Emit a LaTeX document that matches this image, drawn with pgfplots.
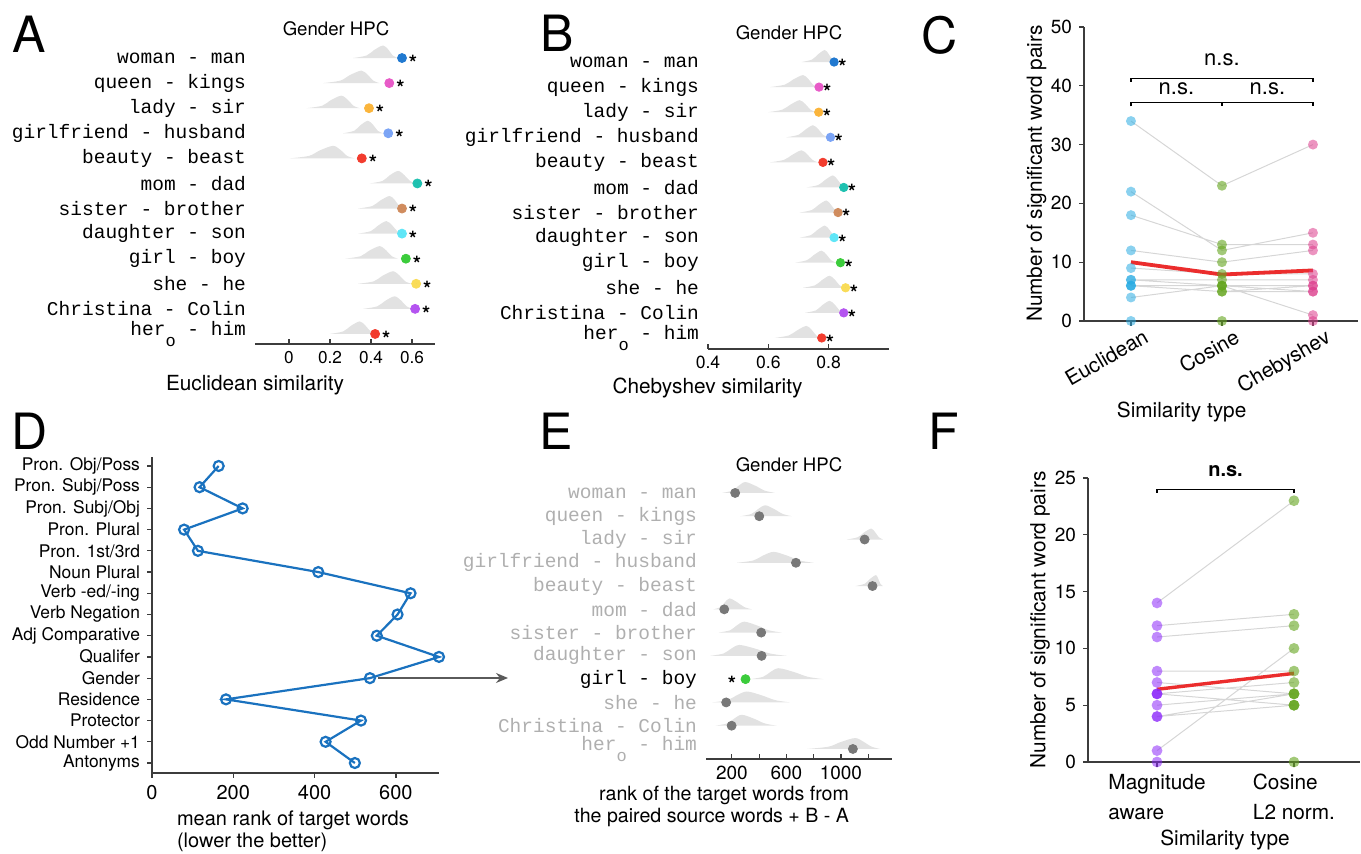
\documentclass[border=0pt]{standalone}
\usepackage{fontspec}
\setmainfont{TeX Gyre Heros}
\newfontfamily\pairfont{Liberation Mono}
\usepackage{pgfplots}
\usepackage{pgfplotstable}
\pgfplotsset{compat=1.18}
\usetikzlibrary{arrows.meta}

\definecolor{axcol}{RGB}{60,60,60}
\definecolor{densgray}{RGB}{226,226,226}
\definecolor{cWoman}{RGB}{33,121,208}
\definecolor{cQueen}{RGB}{232,91,200}
\definecolor{cLady}{RGB}{251,181,60}
\definecolor{cGirlfriend}{RGB}{123,164,245}
\definecolor{cBeauty}{RGB}{242,60,46}
\definecolor{cMom}{RGB}{31,193,176}
\definecolor{cSister}{RGB}{208,140,94}
\definecolor{cDaughter}{RGB}{95,230,247}
\definecolor{cGirl}{RGB}{60,204,60}
\definecolor{cShe}{RGB}{249,220,88}
\definecolor{cChristina}{RGB}{180,84,240}
\definecolor{cHer}{RGB}{242,60,46}
\definecolor{dotgray}{RGB}{120,120,120}
\definecolor{labgray}{RGB}{175,175,175}
\definecolor{dblue}{RGB}{26,114,191}
\definecolor{cEuc}{RGB}{41,171,226}
\definecolor{cCos}{RGB}{100,165,30}
\definecolor{cCheb}{RGB}{220,60,140}
\definecolor{cMag}{RGB}{140,40,250}
\definecolor{meanred}{RGB}{235,45,45}
\definecolor{arrowgray}{RGB}{90,90,90}

\newcommand{\sz}[1]{\fontsize{#1}{#1}\selectfont}

% observed similarity of each word pair (row 12 = top row)
\pgfplotstableread{
x y c
0.551 12 a
0.489 11 b
0.390 10 c
0.484 9 d
0.355 8 e
0.626 7 f
0.551 6 g
0.551 5 h
0.570 4 i
0.620 3 j
0.615 2 k
0.420 1 l
}\dotsA
\pgfplotstableread{
x y c
0.818 12 a
0.768 11 b
0.767 10 c
0.806 9 d
0.781 8 e
0.850 7 f
0.831 6 g
0.818 5 h
0.839 4 i
0.856 3 j
0.850 2 k
0.777 1 l
}\dotsB
\pgfplotstableread{
x y
224 12
401 11
1174 10
670 9
1232 8
144 7
415 6
418 5
158 3
198 2
1088 1
}\dotsE

\pgfplotsset{
  panel/.style={scale only axis, clip=false, anchor=south west,
    axis line style={axcol, line width=0.7pt},
    tick style={axcol, line width=0.6pt},
    major tick length=2.5pt,
    /pgf/number format/assume math mode=true},
  pairs/.style={panel, ytick={1,...,12},
    axis x line*=bottom, axis y line*=left,
    y axis line style={draw=none}, ytick style={draw=none},
    xtick align=inside,
    yticklabel style={font=\pairfont\sz{9.75}, xshift=-1pt},
    yticklabels={her\raisebox{-1.1ex}{\sz{8.5}o} - him, Christina - Colin,
      she - he, girl - boy, daughter - son, sister - brother, mom - dad,
      beauty - beast, girlfriend - husband, lady - sir, queen - kings,
      woman - man}},
  dens/.style={fill=densgray, draw=none, smooth, mark=none},
  pairdots/.style={scatter, only marks, mark=*, scatter src=explicit symbolic,
    scatter/classes={
      a={mark=*, cWoman},
      b={mark=*, cQueen},
      c={mark=*, cLady},
      d={mark=*, cGirlfriend},
      e={mark=*, cBeauty},
      f={mark=*, cMom},
      g={mark=*, cSister},
      h={mark=*, cDaughter},
      i={mark=*, cGirl},
      j={mark=*, cShe},
      k={mark=*, cChristina},
      l={mark=*, cHer}}},
  % significance stars written beside each observed value
  stars/.style={only marks, mark=*, mark size=0pt, draw=none, fill=none,
    nodes near coords={\bfseries *},
    every node near coord/.append style={anchor=base west, inner sep=0pt,
      font=\sz{10.5}, text=black, yshift=-6.2pt}},
  pairlines/.style={draw=black, draw opacity=0.16, line width=0.5pt},
}

\begin{document}
\begin{tikzpicture}
\path[use as bounding box] (0,0) rectangle (680.5pt,427pt);

% ---------------- A: Euclidean similarity ----------------
\begin{axis}[pairs, at={(127.5pt,255pt)}, width=90pt, height=150.5pt,
  xmin=-0.166, xmax=0.712, ymin=0.6, ymax=12.6,
  xtick={0,0.2,0.4,0.6}, xticklabel style={font=\sz{8.6}}]
\addplot[dens] coordinates {(0.312,12)(0.378,12.1)(0.415,12.32)(0.459,12.5)(0.485,12.33)(0.506,12.1)(0.532,12)};
\addplot[dens] coordinates {(0.166,11)(0.250,11.1)(0.297,11.32)(0.353,11.5)(0.384,11.33)(0.411,11.1)(0.442,11)};
\addplot[dens] coordinates {(0.085,10)(0.162,10.1)(0.204,10.32)(0.255,10.5)(0.287,10.33)(0.314,10.1)(0.345,10)};
\addplot[dens] coordinates {(0.263,9)(0.318,9.1)(0.348,9.32)(0.385,9.5)(0.411,9.33)(0.433,9.1)(0.459,9)};
\addplot[dens] coordinates {(0.003,8)(0.098,8.1)(0.151,8.32)(0.215,8.5)(0.252,8.33)(0.283,8.1)(0.320,8)};
\addplot[dens] coordinates {(0.393,7)(0.456,7.1)(0.490,7.32)(0.532,7.5)(0.563,7.33)(0.590,7.1)(0.621,7)};
\addplot[dens] coordinates {(0.337,6)(0.406,6.1)(0.445,6.32)(0.491,6.5)(0.517,6.33)(0.538,6.1)(0.564,6)};
\addplot[dens] coordinates {(0.337,5)(0.399,5.1)(0.434,5.32)(0.475,5.5)(0.503,5.33)(0.528,5.1)(0.556,5)};
\addplot[dens] coordinates {(0.272,4)(0.349,4.1)(0.391,4.32)(0.442,4.5)(0.474,4.33)(0.501,4.1)(0.532,4)};
\addplot[dens] coordinates {(0.337,3)(0.414,3.1)(0.456,3.32)(0.507,3.5)(0.539,3.33)(0.566,3.1)(0.597,3)};
\addplot[dens] coordinates {(0.361,2)(0.430,2.1)(0.469,2.32)(0.515,2.5)(0.547,2.33)(0.574,2.1)(0.605,2)};
\addplot[dens] coordinates {(0.198,1)(0.264,1.1)(0.301,1.32)(0.345,1.5)(0.373,1.33)(0.398,1.1)(0.426,1)};
\addplot[pairdots, mark size=2.25pt] table[x=x, y=y, meta=c] {\dotsA};
\addplot[stars, every node near coord/.append style={xshift=3.3pt}] table[x=x, y=y] {\dotsA};
\end{axis}

% ---------------- B: Chebyshev similarity ----------------
\begin{axis}[pairs, at={(354pt,252.5pt)}, width=90.5pt, height=151pt,
  xmin=0.4, xmax=1.0, ymin=0.56, ymax=12.6,
  xtick={0.4,0.6,0.8}, xticklabel style={font=\sz{8.8}}]
\addplot[dens] coordinates {(0.710,12)(0.745,12.1)(0.764,12.3)(0.787,12.48)(0.800,12.32)(0.812,12.1)(0.825,12)};
\addplot[dens] coordinates {(0.605,11)(0.655,11.1)(0.682,11.3)(0.715,11.48)(0.733,11.32)(0.748,11.1)(0.765,11)};
\addplot[dens] coordinates {(0.599,10)(0.646,10.1)(0.673,10.3)(0.704,10.48)(0.723,10.32)(0.740,10.1)(0.759,10)};
\addplot[dens] coordinates {(0.660,9)(0.700,9.1)(0.722,9.3)(0.748,9.48)(0.766,9.32)(0.781,9.1)(0.798,9)};
\addplot[dens] coordinates {(0.605,8)(0.652,8.1)(0.679,8.3)(0.710,8.48)(0.729,8.32)(0.746,8.1)(0.765,8)};
\addplot[dens] coordinates {(0.726,7)(0.766,7.1)(0.788,7.3)(0.814,7.48)(0.829,7.32)(0.843,7.1)(0.858,7)};
\addplot[dens] coordinates {(0.704,6)(0.744,6.1)(0.766,6.3)(0.792,6.48)(0.807,6.32)(0.821,6.1)(0.836,6)};
\addplot[dens] coordinates {(0.704,5)(0.741,5.1)(0.762,5.3)(0.787,5.48)(0.802,5.32)(0.816,5.1)(0.831,5)};
\addplot[dens] coordinates {(0.688,4)(0.728,4.1)(0.750,4.3)(0.776,4.48)(0.793,4.32)(0.808,4.1)(0.825,4)};
\addplot[dens] coordinates {(0.715,3)(0.755,3.1)(0.777,3.3)(0.803,3.48)(0.821,3.32)(0.836,3.1)(0.853,3)};
\addplot[dens] coordinates {(0.721,2)(0.758,2.1)(0.778,2.3)(0.803,2.48)(0.821,2.32)(0.836,2.1)(0.853,2)};
\addplot[dens] coordinates {(0.621,1)(0.668,1.1)(0.695,1.3)(0.726,1.48)(0.744,1.32)(0.759,1.1)(0.776,1)};
\addplot[pairdots, mark size=2.1pt] table[x=x, y=y, meta=c] {\dotsB};
\addplot[stars, every node near coord/.append style={xshift=1.9pt}] table[x=x, y=y] {\dotsB};
\end{axis}

% ---------------- C: significant pairs per similarity ----------------
\begin{axis}[panel, at={(542pt,266.5pt)}, width=137pt, height=147pt,
  xmin=-0.516, xmax=2.495, ymin=0, ymax=50,
  axis x line*=bottom, axis y line*=left, tick align=outside,
  xtick={0,1,2}, xticklabels={Euclidean,Cosine,Chebyshev},
  ytick={0,10,...,50},
  yticklabel style={font=\sz{9.5}},
  xticklabel style={font=\sz{10.4}, rotate=30, anchor=north east, inner sep=0pt,
    xshift=4.5pt, yshift=-3.5pt}]
\addplot[pairlines, scatter, mark=*, mark size=2.5pt, scatter src=explicit symbolic,
  scatter/classes={
    e={mark=*, fill=cEuc, fill opacity=0.55, draw opacity=0},
    c={mark=*, fill=cCos, fill opacity=0.6, draw opacity=0},
    h={mark=*, fill=cCheb, fill opacity=0.55, draw opacity=0}}]
  table[x=x, y=y, meta=c, empty line=jump] {
x y c
0 34 e
1 23 c
2 30 h

0 22 e
1 12 c
2 15 h

0 18 e
1 13 c
2 13 h

0 12 e
1 10 c
2 12 h

0 9 e
1 8 c
2 8 h

0 7 e
1 7 c
2 7 h

0 7 e
1 6 c
2 6 h

0 6 e
1 5 c
2 5 h

0 6 e
1 6 c
2 1 h

0 6 e
1 5 c
2 6 h

0 4 e
1 6 c
2 5 h

0 0 e
1 0 c
2 0 h
};
\addplot[meanred, line width=1.9pt, mark=none] coordinates {(0,10)(1,7.9)(2,8.6)};
\draw[black, line width=0.6pt] (axis cs:0,40.7) -- (axis cs:0,41.3) -- (axis cs:2,41.3) -- (axis cs:2,40.7);
\draw[black, line width=0.6pt] (axis cs:0,36.5) -- (axis cs:0,37.1) -- (axis cs:2,37.1) -- (axis cs:2,36.5);
\draw[black, line width=0.6pt] (axis cs:1,37.1) -- (axis cs:1,36.5);
\node[font=\sz{11}] at (axis cs:1,44.5) {n.s.};
\node[font=\sz{11}] at (axis cs:0.5,39.5) {n.s.};
\node[font=\sz{11}] at (axis cs:1.5,39.5) {n.s.};
\end{axis}

% ---------------- D: mean rank per relation ----------------
\begin{axis}[panel, at={(76pt,40.5pt)}, width=143.5pt, height=158pt,
  xmin=0, xmax=706, ymin=0.53, ymax=15.424,
  axis x line*=bottom, axis y line*=left, tick align=outside,
  xtick={0,200,400,600}, ytick={1,...,15},
  yticklabels={Antonyms, Odd Number +1, Protector, Residence, Gender, Qualifer,
    Adj Comparative, Verb Negation, Verb -ed/-ing, Noun Plural\hspace{2pt},
    Pron. 1st/3rd, Pron. Plural, Pron. Subj/Obj, Pron. Subj/Poss, Pron. Obj/Poss},
  xticklabel style={font=\sz{10}}, yticklabel style={font=\sz{8.7}}]
\addplot[dblue, line width=1.1pt, mark=o, mark size=2.5pt, mark options={line width=1.1pt}]
  coordinates {(499,1)(427,2)(514,3)(182,4)(536,5)(706,6)(553,7)(604,8)(636,9)(409,10)(113,11)(79,12)(223,13)(117,14)(164,15)};
\end{axis}

% ---------------- E: rank of target words ----------------
\begin{axis}[pairs, at={(353pt,47.5pt)}, width=93pt, height=140pt,
  xmin=10, xmax=1375, ymin=0.57, ymax=12.6,
  xtick={200,400,...,1200}, xticklabels={200,,600,,1000,},
  xticklabel style={font=\sz{9.5}},
  yticklabel style={text=labgray},
  yticklabels={her\raisebox{-1.1ex}{\sz{8.5}o} - him, Christina - Colin,
    she - he, \textcolor{black}{girl - boy}, daughter - son, sister - brother,
    mom - dad, beauty - beast, girlfriend - husband, lady - sir, queen - kings,
    woman - man}]
\addplot[dens] coordinates {(127,12)(204,12.1)(247,12.3)(298,12.47)(375,12.3)(441,12.1)(518,12)};
\addplot[dens] coordinates {(261,11)(344,11.1)(390,11.3)(445,11.47)(513,11.3)(572,11.1)(640,11)};
\addplot[dens] coordinates {(1043,10)(1124,10.1)(1169,10.3)(1223,10.47)(1253,10.3)(1278,10.1)(1308,10)};
\addplot[dens] coordinates {(237,9)(358,9.1)(425,9.3)(506,9.47)(609,9.3)(696,9.1)(799,9)};
\addplot[dens] coordinates {(1107,8)(1175,8.1)(1212,8.3)(1257,8.47)(1275,8.3)(1290,8.1)(1308,8)};
\addplot[dens] coordinates {(65,7)(118,7.1)(148,7.3)(183,7.47)(240,7.3)(290,7.1)(347,7)};
\addplot[dens] coordinates {(102,6)(187,6.1)(234,6.3)(291,6.47)(388,6.3)(470,6.1)(567,6)};
\addplot[dens] coordinates {(41,5)(138,5.1)(192,5.3)(256,5.47)(378,5.3)(482,5.1)(604,5)};
\addplot[dens] coordinates {(335,4)(429,4.1)(481,4.3)(543,4.47)(659,4.3)(758,4.1)(873,4)};
\addplot[dens] coordinates {(53,3)(169,3.1)(233,3.3)(310,3.47)(421,3.3)(517,3.1)(628,3)};
\addplot[dens] coordinates {(78,2)(166,2.1)(215,2.3)(273,2.47)(363,2.3)(440,2.1)(530,2)};
\addplot[dens] coordinates {(750,1)(910,1.1)(999,1.3)(1105,1.47)(1169,1.3)(1225,1.1)(1289,1)};
\addplot[only marks, mark=*, mark size=2.25pt, dotgray]
  table[x=x, y=y] {\dotsE};
\addplot[only marks, mark=*, mark size=2.25pt, cGirl] coordinates {(300,4)};
\addplot[stars, every node near coord/.append style={anchor=base east, xshift=-4.6pt}]
  coordinates {(300,4)};
\end{axis}

% ---------------- F: magnitude aware vs normalised ----------------
\begin{axis}[panel, at={(544pt,46pt)}, width=136pt, height=142pt,
  xmin=-0.504, xmax=1.482, ymin=0, ymax=25,
  axis x line*=bottom, axis y line*=left, tick align=outside,
  xtick={0,1}, xticklabels={Magnitude\\aware, Cosine\\L2 norm.},
  xticklabel style={font=\fontsize{10.4}{15}\selectfont, align=left},
  ytick={0,5,...,25}, yticklabel style={font=\sz{9.5}}]
\addplot[pairlines, scatter, mark=*, mark size=2.7pt, scatter src=explicit symbolic,
  scatter/classes={
    m={mark=*, fill=cMag, fill opacity=0.55, draw opacity=0},
    g={mark=*, fill=cCos, fill opacity=0.6, draw opacity=0}}]
  table[x=x, y=y, meta=c, empty line=jump] {
x y c
0 14 m
1 23 g

0 12 m
1 13 g

0 11 m
1 12 g

0 8 m
1 8 g

0 7 m
1 6 g

0 6 m
1 5 g

0 6 m
1 5 g

0 6 m
1 7 g

0 5 m
1 6 g

0 4 m
1 6 g

0 4 m
1 5 g

0 1 m
1 10 g

0 0 m
1 0 g
};
\addplot[meanred, line width=1.7pt, mark=none] coordinates {(0,6.4)(1,7.8)};
\draw[black, line width=0.6pt] (axis cs:0,23.7) -- (axis cs:0,24) -- (axis cs:1,24) -- (axis cs:1,23.7);
\node[font=\bfseries\sz{10}] at (axis cs:0.5,25.6) {n.s.};
\end{axis}

% arrow from the Gender relation to its word pairs
\draw[arrowgray, line width=0.7pt, -{Stealth[length=6pt, width=5pt]}] (189pt,88pt) -- (254pt,88pt);

% panel letters
\node[font=\sz{25}] at (14.5pt,409.75pt) {A};
\node[font=\sz{25}] at (278.5pt,410.25pt) {B};
\node[font=\sz{25}] at (470pt,409.5pt) {C};
\node[font=\sz{25}] at (15pt,211.5pt) {D};
\node[font=\sz{25}] at (278pt,211.5pt) {E};
\node[font=\sz{25}] at (472pt,211.5pt) {F};

% titles and axis labels
\node[font=\sz{9.3}] at (168pt,412.5pt) {Gender HPC};
\node[font=\sz{9.3}] at (394.5pt,410.5pt) {Gender HPC};
\node[font=\sz{9.3}] at (394.5pt,194.5pt) {Gender HPC};
\node[font=\sz{10.4}] at (127.5pt,234.5pt) {Euclidean similarity};
\node[font=\sz{10.4}] at (353.75pt,233pt) {Chebyshev similarity};
\node[font=\sz{10.4}] at (590.8pt,221.2pt) {Similarity type};
\node[font=\sz{10.4}, rotate=90] at (518.25pt,340.25pt) {Number of significant word pairs};
\node[font=\sz{10}, anchor=base west] at (85pt,14pt) {mean rank of target words};
\node[font=\sz{10}, anchor=base west] at (85pt,3pt) {(lower the better)};
\node[font=\sz{9.8}, anchor=base east] at (428pt,26.6pt) {rank of the target words from};
\node[font=\sz{9.8}, anchor=base east] at (428pt,15.6pt) {the paired source words + B - A};
\node[font=\sz{10.4}] at (612.5pt,7pt) {Similarity type};
\node[font=\sz{10.4}, rotate=90] at (520pt,117pt) {Number of significant word pairs};
\end{tikzpicture}
\end{document}
